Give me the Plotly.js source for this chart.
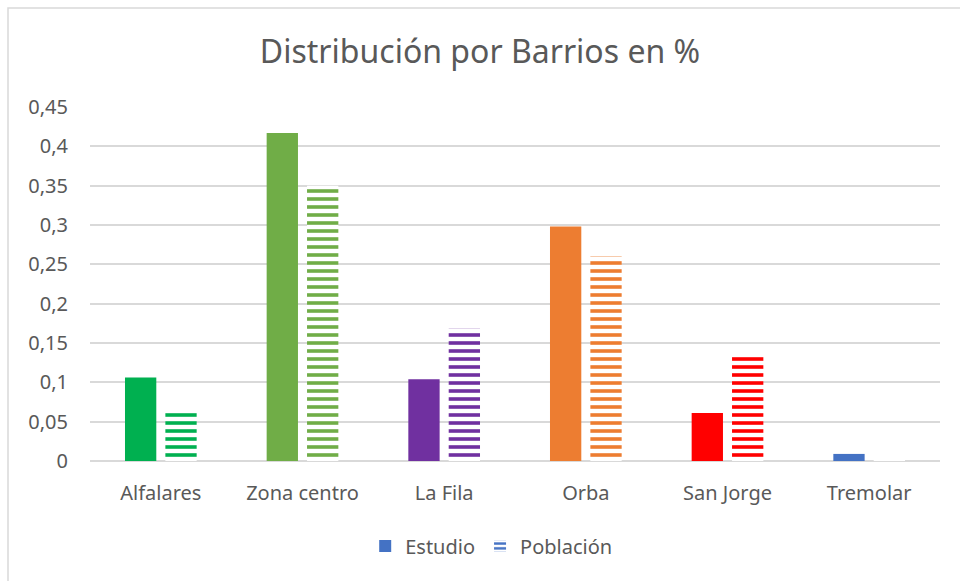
<!DOCTYPE html>
<html>
<head>
<meta charset="utf-8">
<script src="https://cdn.plot.ly/plotly-3.0.1.min.js"></script>
<style>
  html, body { margin: 0; padding: 0; background: #ffffff; }
  #chart { width: 960px; height: 581px; }
</style>
</head>
<body>
<div id="chart"></div>
<script>
// Distribución por Barrios en % -- Estudio vs Población

const barrios = ['Alfalares', 'Zona centro', 'La Fila', 'Orba', 'San Jorge', 'Tremolar'];
const estudio = [0.106, 0.417, 0.104, 0.298, 0.061, 0.009];
const poblacion = [0.065, 0.350, 0.168, 0.260, 0.136, 0.002];
const barColors = ['#00B050', '#70AD47', '#7030A0', '#ED7D31', '#FF0000', '#4472C4'];
const legendColor = '#4472C4';

const textColor = '#595959';
const fontFamily = 'Noto Sans, Open Sans, sans-serif';

// real bars (legend handled by the two swatch traces below)
const estudioTrace = {
    x: barrios,
    y: estudio,
    type: 'bar',
    name: 'Estudio',
    showlegend: false,
    width: 0.221,
    offset: -0.253,
    marker: { color: barColors, line: { width: 0 } },
    hoverinfo: 'x+y'
};

const poblacionTrace = {
    x: barrios,
    y: poblacion,
    type: 'bar',
    name: 'Población',
    showlegend: false,
    width: 0.221,
    offset: 0.032,
    marker: {
        color: 'white',
        line: { width: 0 },
        pattern: {
            shape: '-',
            fgcolor: barColors,
            fgopacity: 1,
            bgcolor: 'white',
            size: 8,
            solidity: 0.45,
            fillmode: 'overlay'
        }
    },
    hoverinfo: 'x+y'
};

// legend-only swatches in the blue of the Excel series
const estudioLegend = {
    x: barrios,
    y: barrios.map(() => null),
    type: 'bar',
    name: 'Estudio',
    marker: { color: legendColor },
    hoverinfo: 'skip'
};

const poblacionLegend = {
    x: barrios,
    y: barrios.map(() => null),
    type: 'bar',
    name: 'Población',
    marker: {
        color: 'white',
        pattern: { shape: '-', fgcolor: legendColor, fgopacity: 1, bgcolor: 'white', size: 6, solidity: 0.5, fillmode: 'overlay' }
    },
    hoverinfo: 'skip'
};

const layout = {
    width: 960,
    height: 581,
    margin: { t: 107, r: 20, b: 120, l: 90 },
    paper_bgcolor: '#ffffff',
    plot_bgcolor: '#ffffff',
    separators: ', ',
    barmode: 'overlay',
    font: { family: fontFamily, color: textColor, size: 20 },
    title: {
        text: 'Distribución por Barrios en %',
        font: { family: fontFamily, size: 32, color: textColor },
        x: 0.5,
        xanchor: 'center',
        y: 0.91,
        yanchor: 'middle'
    },
    xaxis: {
        type: 'category',
        showgrid: false,
        showline: false,
        zeroline: false,
        ticks: '',
        ticklabelstandoff: 18,
        tickfont: { family: fontFamily, size: 20, color: textColor }
    },
    yaxis: {
        range: [0, 0.45],
        dtick: 0.05,
        tickformat: '.2~f',
        showgrid: true,
        gridcolor: '#d9d9d9',
        gridwidth: 1.5,
        zeroline: true,
        zerolinecolor: '#d9d9d9',
        zerolinewidth: 1.5,
        showline: false,
        ticks: '',
        ticklabelstandoff: 21,
        tickfont: { family: fontFamily, size: 20, color: textColor }
    },
    legend: {
        orientation: 'h',
        x: 0.472,
        xanchor: 'center',
        y: -0.24,
        yanchor: 'middle',
        font: { family: fontFamily, size: 20, color: textColor },
        itemwidth: 30,
        traceorder: 'normal'
    },
    shapes: [{
        type: 'rect',
        xref: 'paper',
        yref: 'paper',
        x0: -82 / 850,
        x1: 1.1,
        y0: -0.5,
        y1: 1 + 99 / 354,
        line: { color: '#d9d9d9', width: 1.5 },
        fillcolor: 'rgba(0,0,0,0)',
        layer: 'below'
    }],
    showlegend: true,
    hovermode: 'closest'
};

Plotly.newPlot('chart', [estudioTrace, poblacionTrace, estudioLegend, poblacionLegend], layout, {
    displayModeBar: false,
    responsive: false
});
</script>
</body>
</html>
